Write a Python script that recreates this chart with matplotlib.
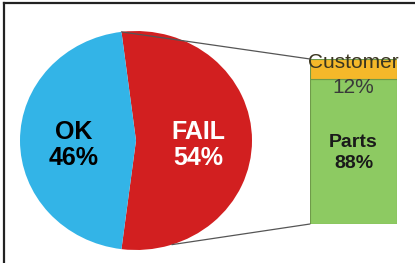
import numpy as np
import matplotlib.pyplot as plt
from matplotlib.patches import ConnectionPatch

plt.rcParams['font.family'] = ['Liberation Sans', 'DejaVu Sans']

# main pie
pie_labels = ['FAIL', 'OK']
pie_values = [54, 46]
pie_colors = ['#d21f20', '#33b4e7']
pie_text_colors = ['white', 'black']

# breakdown of FAIL
bar_labels = ['Parts', 'Customer']
bar_values = [88, 12]
bar_colors = ['#8dca62', '#f5b82a']

W, H = 415, 263
fig = plt.figure(figsize=(W / 100, H / 100), dpi=100)

# outer frame (top and left only)
fig.add_artist(plt.Line2D([3.5 / W, 3.5 / W], [0, 1 - 2.5 / H], color='#222222', lw=1.6))
fig.add_artist(plt.Line2D([3.5 / W, 1], [1 - 2.5 / H, 1 - 2.5 / H], color='#222222', lw=1.6))

# pie axes (elliptical)
ax = fig.add_axes([20 / W, 13 / H, 232 / W, 219 / H])
fail_angle = pie_values[0] / sum(pie_values) * 360
start = -fail_angle / 2
wedges, _ = ax.pie(pie_values, colors=pie_colors, startangle=start,
                   counterclock=True, radius=1,
                   wedgeprops=dict(linewidth=0))
ax.set_aspect('auto')
ax.set_xlim(-1, 1)
ax.set_ylim(-1, 1)
ax.axis('off')

ang = start
for lab, val, tc in zip(pie_labels, pie_values, pie_text_colors):
    span = val / sum(pie_values) * 360
    mid = np.deg2rad(ang + span / 2)
    ang += span
    ax.text(0.54 * np.cos(mid), 0.54 * np.sin(mid) - 0.04, f'{lab}\n{val}%',
            ha='center', va='center', color=tc, fontsize=18,
            fontweight='bold', linespacing=1.1)

# bar axes
bx = fig.add_axes([310 / W, (H - 224) / H, 87 / W, 165 / H])
bottom = 0
for lab, val, col in zip(bar_labels, bar_values, bar_colors):
    bx.bar(0, val, bottom=bottom, width=1, color=col,
           edgecolor='#6f9a4a', linewidth=0.8)
    bottom += val
bx.set_xlim(-0.5, 0.5)
bx.set_ylim(0, sum(bar_values))
bx.axis('off')

bx.text(0, 43, f'{bar_labels[0]}\n{bar_values[0]}%', ha='center', va='center',
        fontsize=14, fontweight='bold', color='#1a1a1a', linespacing=1.3)
bx.text(0, 98, bar_labels[1], ha='center', va='center', fontsize=15,
        color='#3a3520')
bx.text(0, 83, f'{bar_values[1]}%', ha='center', va='center', fontsize=15,
        color='#3a3a3a')

# connector lines
t1 = np.deg2rad(start + fail_angle)
t2 = np.deg2rad(-72)
for (px, py), by in [((np.cos(t1), np.sin(t1)), sum(bar_values)),
                     ((np.cos(t2), np.sin(t2)), 0)]:
    con = ConnectionPatch(xyA=(px, py), coordsA=ax.transData,
                          xyB=(-0.5, by), coordsB=bx.transData,
                          color='#555555', lw=0.9)
    fig.add_artist(con)

plt.savefig('out.png', dpi=100)
